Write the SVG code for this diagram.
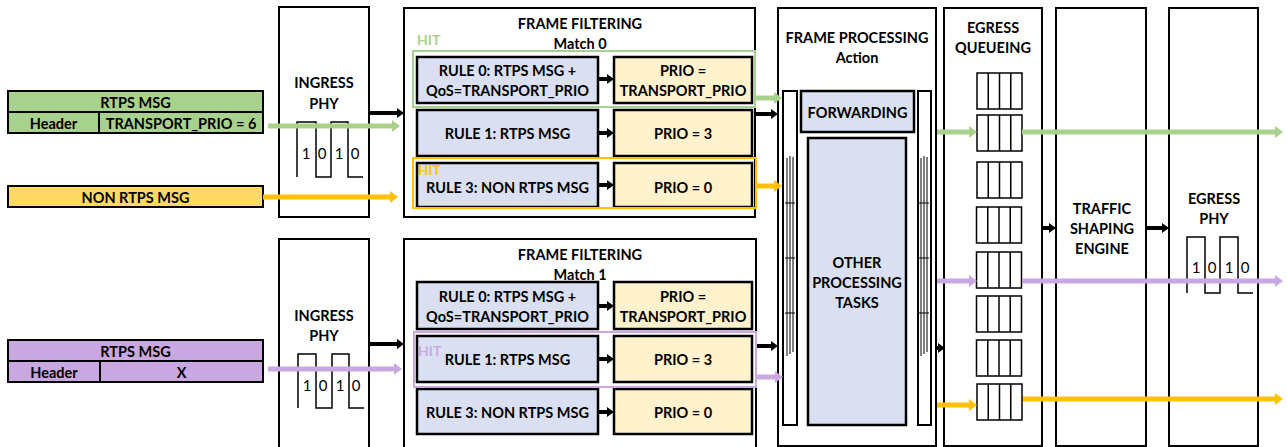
<svg xmlns="http://www.w3.org/2000/svg" width="1287" height="447" viewBox="0 0 1287 447">
  <defs>
    <style>
      text { font-family: Lato, "Liberation Sans", sans-serif; font-weight: bold; font-size: 14.5px; fill: #000; text-anchor: middle; dominant-baseline: central; }
      .bit { font-weight: normal; font-size: 15px; }
      .hit { text-anchor: start; font-size: 14px; }
      .blk { fill: #fff; stroke: #000; stroke-width: 2; }
      .rule { fill: #dae0f2; stroke: #000; stroke-width: 2.5; }
      .prio { fill: #fff2cc; stroke: #000; stroke-width: 2.5; }
      .bar { fill: #fff; stroke: #000; stroke-width: 2; }
      .q { fill: #fff; stroke: #000; stroke-width: 1.5; }
      .wave { fill: none; stroke: #000; stroke-width: 1.5; }
      .thin { fill: none; stroke: #000; stroke-width: 1; }
      .msgG { fill: #a9d18e; stroke: #000; stroke-width: 2; }
      .msgY { fill: #ffd966; stroke: #000; stroke-width: 2; }
      .msgP { fill: #c9a8e2; stroke: #000; stroke-width: 2; }
      .a-k { stroke: #000; stroke-width: 4; fill: none; marker-end: url(#hk); }
      .a-g { stroke: #a9d18e; stroke-width: 5; fill: none; marker-end: url(#hg); }
      .a-y { stroke: #ffc000; stroke-width: 5; fill: none; marker-end: url(#hy); }
      .a-p { stroke: #c9a8e2; stroke-width: 5; fill: none; marker-end: url(#hp); }
    </style>
    <marker id="hk" viewBox="0 -5 7 10" refX="0" refY="0" markerWidth="7" markerHeight="10" markerUnits="userSpaceOnUse" orient="auto"><path d="M0,-5 L7,0 L0,5 z" fill="#000"/></marker>
    <marker id="hg" viewBox="0 -6 8 12" refX="0" refY="0" markerWidth="8" markerHeight="12" markerUnits="userSpaceOnUse" orient="auto"><path d="M0,-6 L8,0 L0,6 z" fill="#a9d18e"/></marker>
    <marker id="hy" viewBox="0 -6 8 12" refX="0" refY="0" markerWidth="8" markerHeight="12" markerUnits="userSpaceOnUse" orient="auto"><path d="M0,-6 L8,0 L0,6 z" fill="#ffc000"/></marker>
    <marker id="hp" viewBox="0 -6 8 12" refX="0" refY="0" markerWidth="8" markerHeight="12" markerUnits="userSpaceOnUse" orient="auto"><path d="M0,-6 L8,0 L0,6 z" fill="#c9a8e2"/></marker>
    <!-- one egress queue: four slots -->
    <g id="queue">
      <rect class="q" x="0" y="0" width="45" height="36"/>
      <line class="q" x1="11.25" y1="0" x2="11.25" y2="36"/>
      <line class="q" x1="22.5" y1="0" x2="22.5" y2="36"/>
      <line class="q" x1="33.75" y1="0" x2="33.75" y2="36"/>
    </g>
    <!-- bus lines inside the frame processing side bars -->
    <g id="bus">
      <line class="thin" x1="0" y1="1" x2="0" y2="199"/>
      <line class="thin" x1="3" y1="-1" x2="3" y2="197"/>
      <line class="thin" x1="6" y1="0" x2="6" y2="195"/>
      <line class="thin" x1="-2" y1="46" x2="8" y2="46"/>
      <line class="thin" x1="-2" y1="101" x2="8" y2="101"/>
      <line class="thin" x1="-2" y1="156" x2="8" y2="156"/>
    </g>
  </defs>

  <rect width="1287" height="447" fill="#fff"/>

  <!-- incoming messages -->
  <g id="msg-rtps-prio">
    <rect class="msgG" x="8" y="91" width="255" height="21"/>
    <rect class="msgG" x="8" y="112" width="255" height="21"/>
    <line stroke="#000" stroke-width="2" x1="99" y1="112" x2="99" y2="133"/>
    <text x="135.5" y="102">RTPS MSG</text>
    <text x="53.5" y="123">Header</text>
    <text x="181" y="123">TRANSPORT_PRIO = 6</text>
  </g>
  <g id="msg-non-rtps">
    <rect class="msgY" x="8" y="186" width="255" height="21"/>
    <text x="135.5" y="197">NON RTPS MSG</text>
  </g>
  <g id="msg-rtps-x">
    <rect class="msgP" x="8" y="340" width="255" height="21"/>
    <rect class="msgP" x="8" y="361" width="255" height="21"/>
    <line stroke="#000" stroke-width="2" x1="100" y1="361" x2="100" y2="382"/>
    <text x="135.5" y="351">RTPS MSG</text>
    <text x="54" y="372">Header</text>
    <text x="181.5" y="372">X</text>
  </g>

  <!-- ingress PHY, port 0 -->
  <g id="ingress-phy-0">
    <rect class="blk" x="279" y="7" width="90" height="210"/>
    <text x="324" y="82">INGRESS</text>
    <text x="324" y="103">PHY</text>
    <path class="wave" d="M297,177 V122 H316 V177 H331 V122 H348 V177 H363"/>
    <text class="bit" x="306" y="153">1</text>
    <text class="bit" x="322" y="153">0</text>
    <text class="bit" x="339" y="153">1</text>
    <text class="bit" x="355" y="153">0</text>
  </g>

  <!-- ingress PHY, port 1 -->
  <g id="ingress-phy-1">
    <rect class="blk" x="279" y="239" width="90" height="220"/>
    <text x="324" y="315">INGRESS</text>
    <text x="324" y="335">PHY</text>
    <path class="wave" d="M298,408 V354 H316 V408 H332 V354 H349 V408 H364"/>
    <text class="bit" x="307" y="385">1</text>
    <text class="bit" x="323" y="385">0</text>
    <text class="bit" x="340" y="385">1</text>
    <text class="bit" x="356" y="385">0</text>
  </g>

  <!-- frame filtering, match 0 -->
  <g id="frame-filtering-0">
    <rect class="blk" x="404" y="8" width="351" height="209"/>
    <text x="580" y="23">FRAME FILTERING</text>
    <text x="580" y="43">Match 0</text>
    <rect class="rule" x="417" y="57" width="181" height="46"/>
    <text x="507.5" y="70">RULE 0: RTPS MSG +</text>
    <text x="507.5" y="90">QoS=TRANSPORT_PRIO</text>
    <rect class="prio" x="614" y="57" width="138" height="46"/>
    <text x="683" y="70">PRIO =</text>
    <text x="683" y="90">TRANSPORT_PRIO</text>
    <rect class="rule" x="417" y="110" width="181" height="46"/>
    <text x="507.5" y="133">RULE 1: RTPS MSG</text>
    <rect class="prio" x="614" y="110" width="138" height="46"/>
    <text x="683" y="133">PRIO = 3</text>
    <rect class="rule" x="417" y="163" width="181" height="44"/>
    <text x="507.5" y="187">RULE 3: NON RTPS MSG</text>
    <rect class="prio" x="614" y="163" width="138" height="44"/>
    <text x="683" y="187">PRIO = 0</text>
    <rect x="413" y="51" width="342" height="56" fill="none" stroke="#a9d18e" stroke-width="2"/>
    <text class="hit" x="417" y="39" style="fill:#a9d18e">HIT</text>
    <rect x="413" y="158" width="343" height="50" fill="none" stroke="#ffc000" stroke-width="2"/>
    <text class="hit" x="418" y="170" style="fill:#ffc000;font-size:13.5px">HIT</text>
  </g>

  <!-- frame filtering, match 1 -->
  <g id="frame-filtering-1">
    <rect class="blk" x="404" y="239" width="352" height="220"/>
    <text x="580" y="254">FRAME FILTERING</text>
    <text x="580" y="274">Match 1</text>
    <rect class="rule" x="417" y="282" width="181" height="47"/>
    <text x="507.5" y="296">RULE 0: RTPS MSG +</text>
    <text x="507.5" y="316">QoS=TRANSPORT_PRIO</text>
    <rect class="prio" x="614" y="282" width="138" height="47"/>
    <text x="683" y="296">PRIO =</text>
    <text x="683" y="316">TRANSPORT_PRIO</text>
    <rect class="rule" x="417" y="336" width="181" height="46"/>
    <text x="507.5" y="359">RULE 1: RTPS MSG</text>
    <rect class="prio" x="614" y="336" width="138" height="46"/>
    <text x="683" y="359">PRIO = 3</text>
    <rect class="rule" x="417" y="389" width="181" height="45"/>
    <text x="507.5" y="412">RULE 3: NON RTPS MSG</text>
    <rect class="prio" x="614" y="389" width="138" height="45"/>
    <text x="683" y="412">PRIO = 0</text>
    <rect x="414" y="332" width="342" height="55" fill="none" stroke="#c9a8e2" stroke-width="2"/>
    <text class="hit" x="418" y="350" style="fill:#c9a8e2">HIT</text>
  </g>

  <!-- frame processing -->
  <g id="frame-processing">
    <rect class="blk" x="778" y="8" width="158" height="438"/>
    <text x="857" y="37">FRAME PROCESSING</text>
    <text x="857" y="57">Action</text>
    <rect class="bar" x="783" y="91" width="14" height="334"/>
    <rect class="bar" x="918" y="91" width="13" height="334"/>
    <use href="#bus" x="787" y="157"/>
    <use href="#bus" x="921" y="157"/>
    <rect class="rule" x="801" y="91" width="113" height="41"/>
    <text x="857.5" y="112">FORWARDING</text>
    <rect class="rule" x="808" y="138" width="98" height="287"/>
    <text x="857" y="262">OTHER</text>
    <text x="857" y="282">PROCESSING</text>
    <text x="857" y="302">TASKS</text>
  </g>

  <!-- egress queueing -->
  <g id="egress-queueing">
    <rect class="blk" x="944" y="8" width="98" height="438"/>
    <text x="993" y="27">EGRESS</text>
    <text x="993" y="47">QUEUEING</text>
    <use href="#queue" x="977" y="73"/>
    <use href="#queue" x="977" y="115"/>
    <use href="#queue" x="977" y="162"/>
    <use href="#queue" x="976.5" y="207"/>
    <use href="#queue" x="976.5" y="252"/>
    <use href="#queue" x="976.5" y="296"/>
    <use href="#queue" x="976.5" y="340"/>
    <use href="#queue" x="977" y="384"/>
  </g>

  <!-- traffic shaping -->
  <g id="traffic-shaping">
    <rect class="blk" x="1056" y="8" width="90" height="438"/>
    <text x="1102" y="208">TRAFFIC</text>
    <text x="1102" y="228">SHAPING</text>
    <text x="1102" y="248">ENGINE</text>
  </g>

  <!-- egress PHY -->
  <g id="egress-phy">
    <rect class="blk" x="1169" y="8" width="89" height="438"/>
    <text x="1214" y="198">EGRESS</text>
    <text x="1214" y="218">PHY</text>
    <path class="wave" d="M1187,293 V237 H1205 V293 H1220 V237 H1238 V293 H1253"/>
    <text class="bit" x="1196" y="267">1</text>
    <text class="bit" x="1212" y="267">0</text>
    <text class="bit" x="1229" y="267">1</text>
    <text class="bit" x="1245" y="267">0</text>
  </g>

  <!-- connectors -->
  <g id="connectors">
    <!-- port 0 -->
    <line class="a-g" x1="268" y1="126" x2="392" y2="126"/>
    <line class="a-y" x1="263" y1="197" x2="390" y2="197"/>
    <line class="a-k" x1="369" y1="113" x2="397" y2="113"/>
    <line class="a-k" x1="598" y1="79" x2="607" y2="79"/>
    <line class="a-k" x1="598" y1="133" x2="607" y2="133"/>
    <line class="a-k" x1="598" y1="185" x2="607" y2="185"/>
    <line class="a-g" x1="756" y1="98" x2="774" y2="98"/>
    <line class="a-k" x1="756" y1="114" x2="771" y2="114"/>
    <line class="a-y" x1="757" y1="186" x2="774" y2="186"/>
    <!-- port 1 -->
    <line class="a-p" x1="268" y1="369" x2="394" y2="369"/>
    <line class="a-k" x1="369" y1="344" x2="397" y2="344"/>
    <line class="a-k" x1="598" y1="306" x2="607" y2="306"/>
    <line class="a-k" x1="598" y1="359" x2="607" y2="359"/>
    <line class="a-k" x1="598" y1="412" x2="607" y2="412"/>
    <line class="a-k" x1="757" y1="346" x2="771" y2="346"/>
    <line class="a-p" x1="757" y1="377" x2="775" y2="377"/>
    <!-- processing to egress -->
    <line class="a-k" x1="936" y1="348" x2="938" y2="348"/>
    <line class="a-g" x1="937" y1="132" x2="969" y2="132"/>
    <line class="a-p" x1="937" y1="281" x2="969" y2="281"/>
    <line class="a-y" x1="937" y1="405" x2="969" y2="405"/>
    <line class="a-k" x1="1042" y1="228" x2="1049" y2="228"/>
    <line class="a-k" x1="1146" y1="228" x2="1162" y2="228"/>
    <line class="a-g" x1="1022" y1="132" x2="1275" y2="132"/>
    <line class="a-p" x1="1022" y1="281" x2="1275" y2="281"/>
    <line class="a-y" x1="1023" y1="399" x2="1275" y2="399"/>
  </g>
</svg>
